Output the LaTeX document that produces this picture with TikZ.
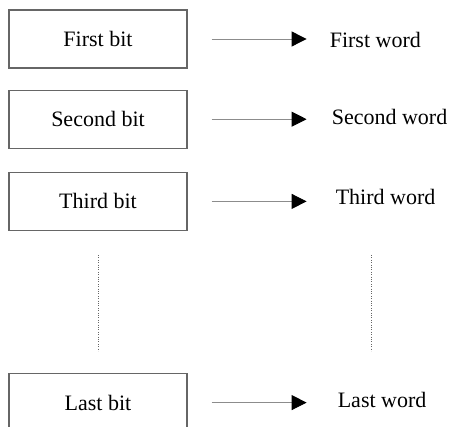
\documentclass[tikz,border=0pt]{standalone}
\usepackage{fontspec}
\setmainfont{Liberation Serif}
\usepackage{tikz}
\usetikzlibrary{arrows.meta, positioning, calc}

\newcommand{\bitfont}{\fontsize{22}{26}\selectfont}

\begin{document}
\begin{tikzpicture}[x=1pt, y=1pt, node distance=21pt,
    bitbox/.style={rectangle, draw=black!60, line width=1.2pt, minimum width=178pt, minimum height=58pt, inner sep=0pt, font=\bitfont},
    word/.style={inner sep=0pt, font=\bitfont},
    line/.style={draw=black!45, line width=0.9pt, -{Triangle[length=15pt, width=15pt, color=black]}, shorten <=24pt},
    dots/.style={draw=black!60, line width=0.8pt, dash pattern=on 1pt off 1.4pt}]

    \useasboundingbox (0,0) rectangle (450,-427);

    % Bits
    \node [bitbox] (firstbit) at (98,-39) {First bit};
    \node [bitbox, below=21pt of firstbit] (secondbit) {Second bit};
    \node [bitbox, below=23pt of secondbit] (thirdbit) {Third bit};
    \node [bitbox, below=142pt of thirdbit] (lastbit) {Last bit};

    % Words
    \node [word, right=142pt of firstbit, yshift=-1pt] (firstword) {First word};
    \node [word, right=144pt of secondbit, yshift=2pt] (secondword) {Second word};
    \node [word, right=148pt of thirdbit, yshift=4pt] (thirdword) {Third word};
    \node [word, right=150pt of lastbit, yshift=3pt] (lastword) {Last word};

    % Arrows
    \foreach \n/\gap in {first/23, second/25, third/29, last/31}
        \path [line, shorten >=\gap pt] (\n bit.east) -- (\n bit.east -| \n word.west);

    % Dots
    \path [dots, shorten <=24pt, shorten >=22pt] (thirdbit) -- (lastbit);
    \path [dots] ($(thirdbit.south)+(273pt,-24pt)$) -- ($(lastbit.north)+(273pt,22pt)$);

\end{tikzpicture}
\end{document}
